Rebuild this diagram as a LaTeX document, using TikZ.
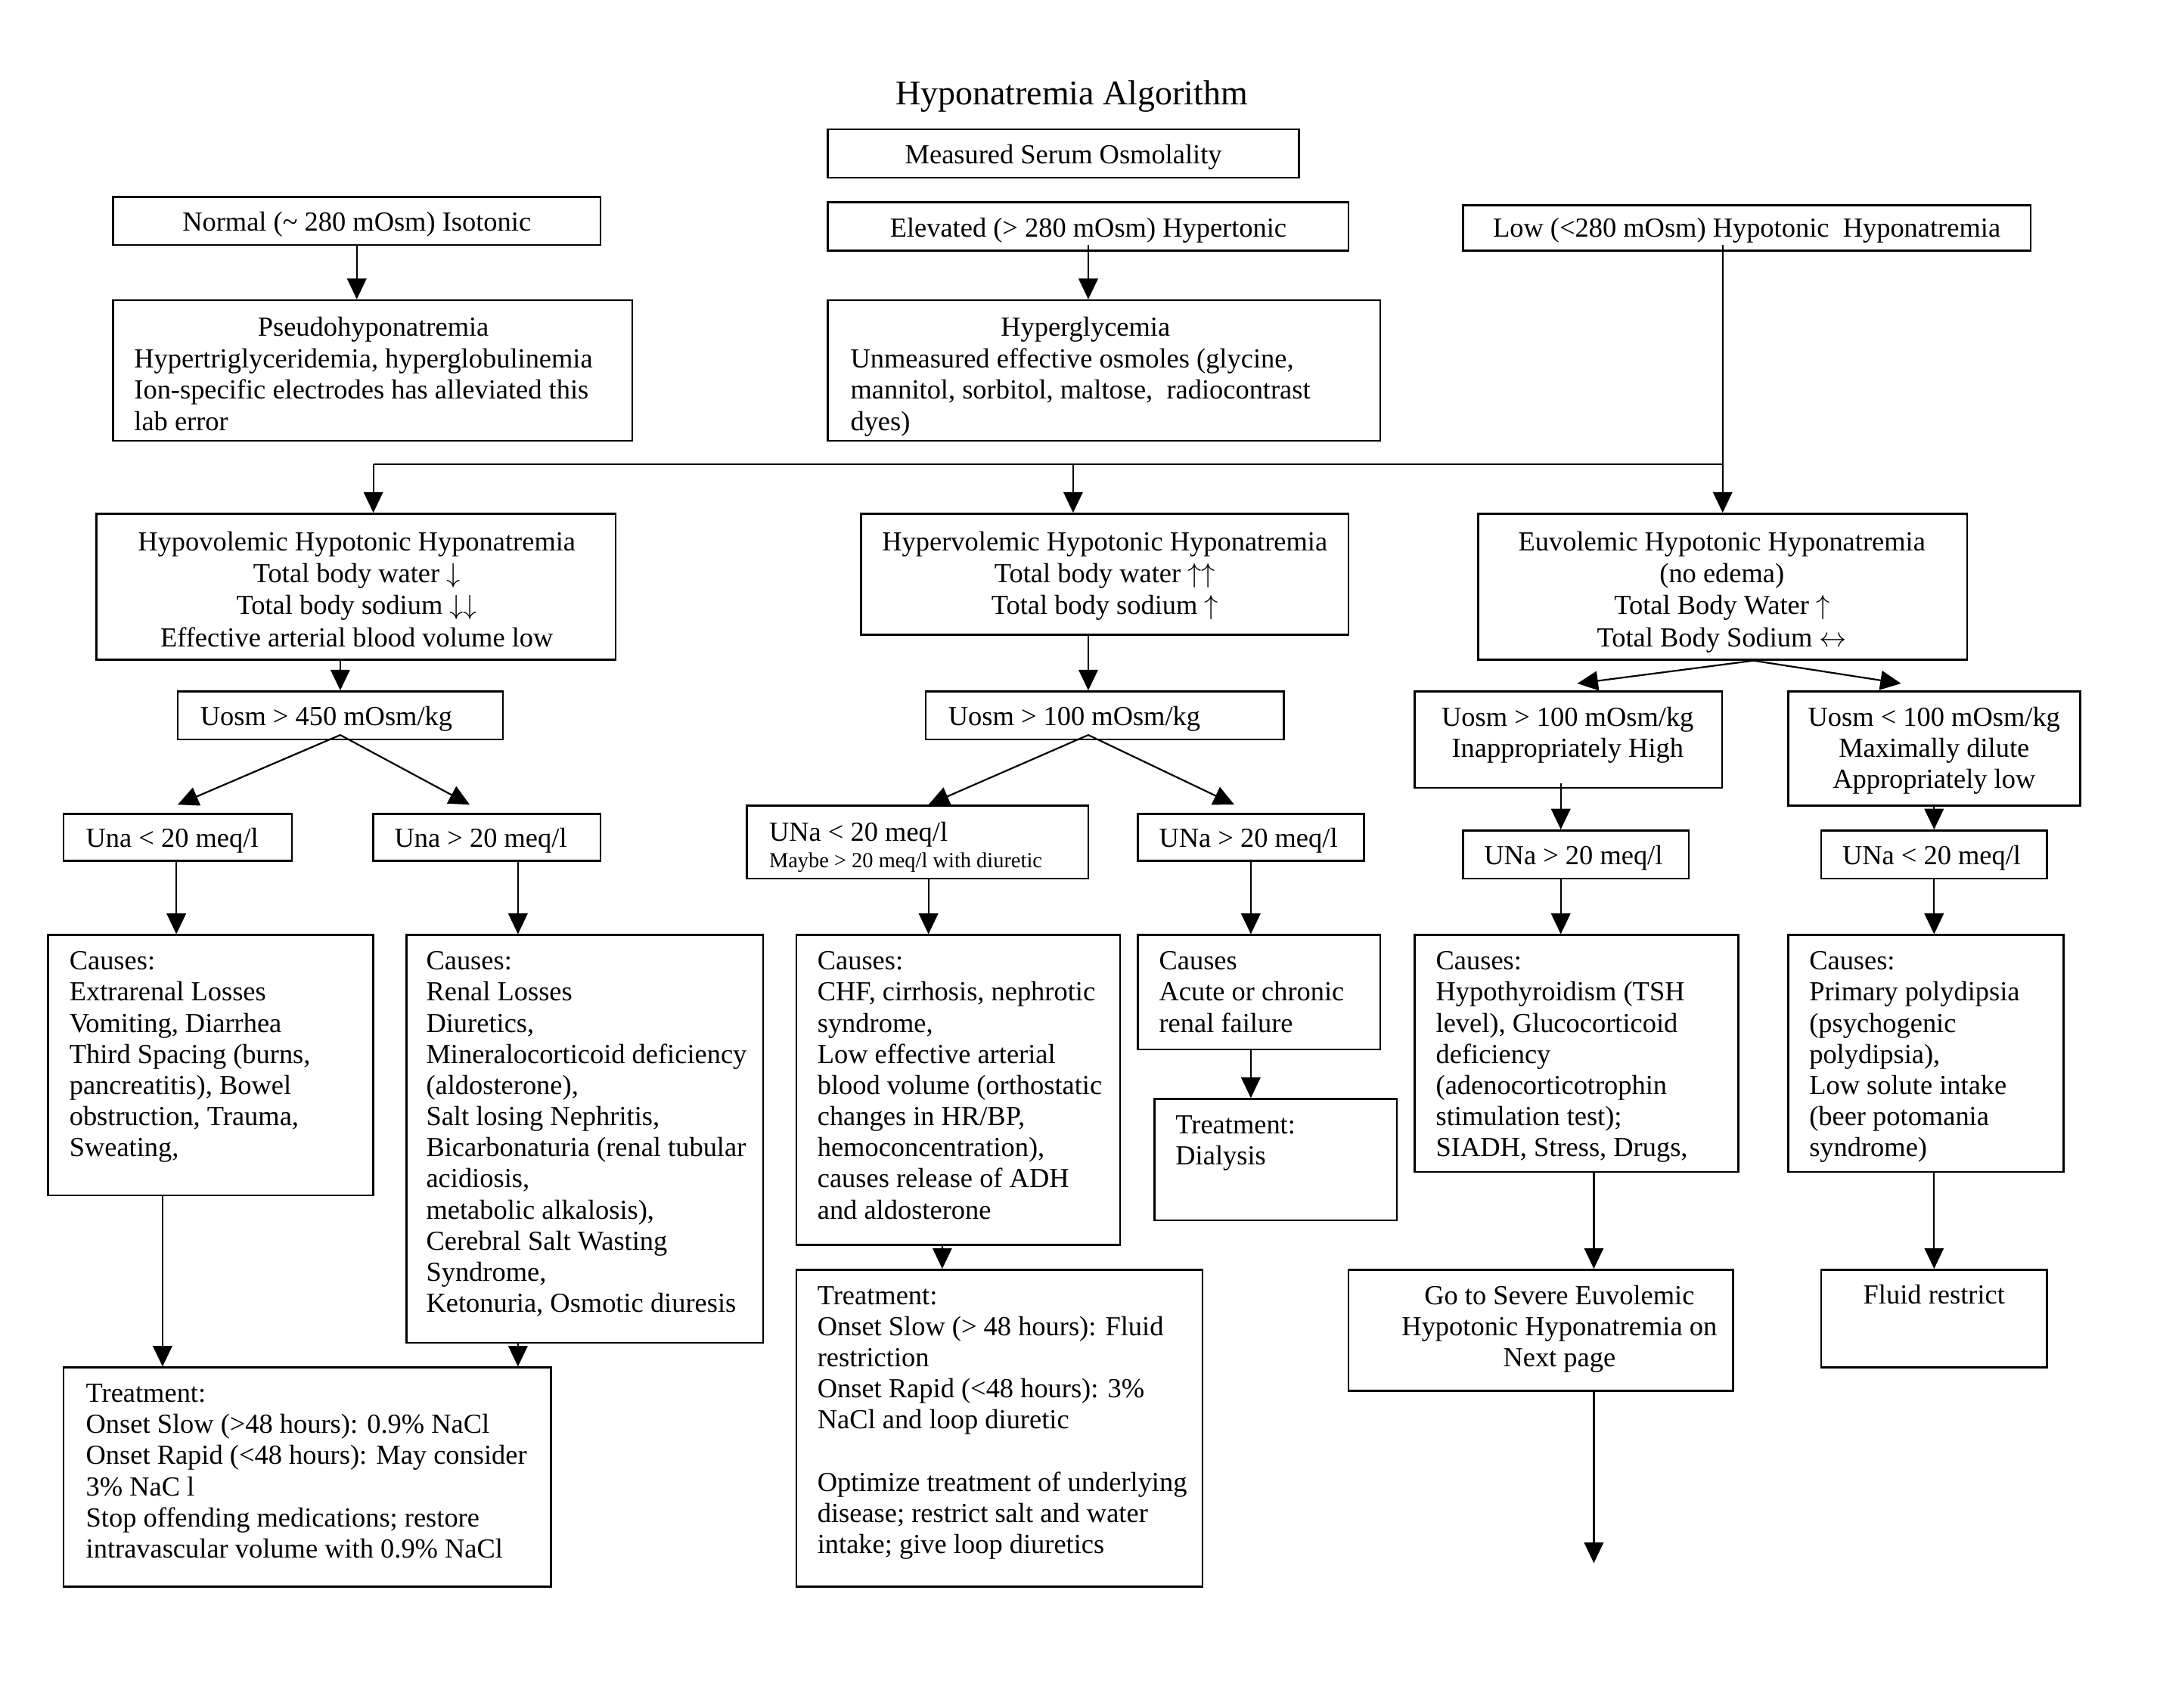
\documentclass[tikz,border=0pt]{standalone}
\usepackage{fontspec}
\setmainfont{Liberation Serif}
\usetikzlibrary{fit,arrows.meta}
\newcommand\vconn[3]{\coordinate (vx) at (#3,0); \draw[arr] (#1.south -| vx) -- (#2.north -| vx);}
\begin{document}
\begin{tikzpicture}[x=0.5pt,y=-0.5pt,
  bx/.style={draw, line width=0.7pt, inner sep=0pt},
  tx/.style={inner sep=0pt, font=\fontsize{10}{11.3}\selectfont},
  txu/.style={inner sep=0pt, font=\fontsize{10}{11.65}\selectfont},
  arr/.style={-{Triangle[length=7.5pt,width=7pt]}, line width=0.6pt},
  ln/.style={line width=0.6pt}]
\fill[white] (0,0) rectangle (1568,1239.7);
\useasboundingbox (0,0) rectangle (1568,1239.7);

\node[inner sep=0pt, font=\fontsize{12.6}{15}\selectfont, anchor=base] (title) at (778,76) {Hyponatremia Algorithm};

% top row
\node[bx, fit={(601,94) (943,129)}] (mso) {};
\node[tx, anchor=base] (mso-t) at (772,119) {Measured Serum Osmolality};
\node[bx, fit={(82,143) (436,178)}] (normal) {};
\node[tx, anchor=base] (normal-t) at (259,168) {Normal (\textasciitilde{} 280 mOsm) Isotonic};
\node[bx, fit={(601,147) (979,182)}] (elev) {};
\node[tx, anchor=base] (elev-t) at (790,172) {Elevated (> 280 mOsm) Hypertonic};
\node[bx, fit={(1062,149) (1474,182)}] (low) {};
\node[tx, anchor=base] (low-t) at (1268,172) {Low (<280 mOsm) Hypotonic\ \ Hyponatremia};

\node[bx, fit={(82,218) (459,320)}] (pseudo) {};
\node[tx, anchor=base] (pseudo-h) at (271,244) {Pseudohyponatremia};
\node[tx, anchor=north west, align=left] (pseudo-t) at (97,267-16) {\strut Hypertriglyceridemia, hyperglobulinemia\\ Ion-specific electrodes has alleviated this\\ lab error};

\node[bx, fit={(601,218) (1002,320)}] (hyperg) {};
\node[tx, anchor=base] (hyperg-h) at (788,244) {Hyperglycemia};
\node[tx, anchor=north west, align=left] (hyperg-t) at (617,267-16) {\strut Unmeasured effective osmoles (glycine,\\ mannitol, sorbitol, maltose,\ \ radiocontrast\\ dyes)};

% volume status
\node[bx, fit={(70,373) (447,479)}] (hypo) {};
\node[txu, anchor=north, align=center] (hypo-t) at (259,399-16) {\strut Hypovolemic Hypotonic Hyponatremia\\ Total body water $\downarrow$\\ Total body sodium $\downarrow\downarrow$\\ Effective arterial blood volume low};
\node[bx, fit={(625,373) (979,461)}] (hyper) {};
\node[txu, anchor=north, align=center] (hyper-t) at (802,399-16) {\strut Hypervolemic Hypotonic Hyponatremia\\ Total body water $\uparrow\uparrow$\\ Total body sodium $\uparrow$};
\node[bx, fit={(1073,373) (1428,479)}] (euv) {};
\node[txu, anchor=north, align=center] (euv-t) at (1250,399-16) {\strut Euvolemic Hypotonic Hyponatremia\\ (no edema)\\ Total Body Water $\uparrow$\\ Total Body Sodium $\leftrightarrow$};

% urine osm
\node[bx, fit={(129,502) (365,537)}] (u450) {};
\node[tx, anchor=base west] (u450-t) at (145,527) {Uosm > 450 mOsm/kg};
\node[bx, fit={(672,502) (932,537)}] (uH) {};
\node[tx, anchor=base west] (uH-t) at (688,527) {Uosm > 100 mOsm/kg};
\node[bx, fit={(1027,502) (1250,572)}] (uEL) {};
\node[tx, anchor=north, align=center] (uEL-t) at (1138,527-16) {\strut Uosm > 100 mOsm/kg\\ Inappropriately High};
\node[bx, fit={(1298,502) (1510,585)}] (uER) {};
\node[tx, anchor=north, align=center] (uER-t) at (1404,527-16) {\strut Uosm < 100 mOsm/kg\\ Maximally dilute\\ Appropriately low};

% urine Na
\node[bx, fit={(46,591) (212,625)}] (unaL) {};
\node[tx, anchor=base west] (unaL-t) at (62,615) {Una < 20 meq/l};
\node[bx, fit={(271,591) (436,625)}] (unaR) {};
\node[tx, anchor=base west] (unaR-t) at (286,615) {Una > 20 meq/l};
\node[bx, fit={(542,585) (790,638)}] (unaHL) {};
\node[tx, anchor=base west] (unaHL-t) at (558,611) {UNa < 20 meq/l};
\node[tx, anchor=base west, font=\fontsize{7.8}{9}\selectfont] (unaHL-s) at (558,630) {Maybe > 20 meq/l with diuretic};
\node[bx, fit={(826,591) (990,625)}] (unaHR) {};
\node[tx, anchor=base west] (unaHR-t) at (841,615) {UNa > 20 meq/l};
\node[bx, fit={(1062,603) (1226,638)}] (unaEL) {};
\node[tx, anchor=base west] (unaEL-t) at (1077,628) {UNa > 20 meq/l};
\node[bx, fit={(1322,603) (1486,638)}] (unaER) {};
\node[tx, anchor=base west] (unaER-t) at (1337,628) {UNa < 20 meq/l};

% causes
\node[bx, fit={(35,679) (271,868)}] (c1) {};
\node[tx, anchor=north west, align=left] (c1-t) at (50,704-16) {\strut Causes:\\ Extrarenal Losses\\ Vomiting, Diarrhea\\ Third Spacing (burns,\\ pancreatitis), Bowel\\ obstruction, Trauma,\\ Sweating,};
\node[bx, fit={(295,679) (554,975)}] (c2) {};
\node[tx, anchor=north west, align=left] (c2-t) at (309,704-16) {\strut Causes:\\ Renal Losses\\ Diuretics,\\ Mineralocorticoid deficiency\\ (aldosterone),\\ Salt losing Nephritis,\\ Bicarbonaturia (renal tubular\\ acidiosis,\\ metabolic alkalosis),\\ Cerebral Salt Wasting\\ Syndrome,\\ Ketonuria, Osmotic diuresis};
\node[bx, fit={(578,679) (813,904)}] (c3) {};
\node[tx, anchor=north west, align=left] (c3-t) at (593,704-16) {\strut Causes:\\ CHF, cirrhosis, nephrotic\\ syndrome,\\ Low effective arterial\\ blood volume (orthostatic\\ changes in HR/BP,\\ hemoconcentration),\\ causes release of ADH\\ and aldosterone};
\node[bx, fit={(826,679) (1002,762)}] (c4) {};
\node[tx, anchor=north west, align=left] (c4-t) at (841,704-16) {\strut Causes\\ Acute or chronic\\ renal failure};
\node[bx, fit={(1027,679) (1262,851)}] (c5) {};
\node[tx, anchor=north west, align=left] (c5-t) at (1042,704-16) {\strut Causes:\\ Hypothyroidism (TSH\\ level), Glucocorticoid\\ deficiency\\ (adenocorticotrophin\\ stimulation test);\\ SIADH, Stress, Drugs,};
\node[bx, fit={(1298,679) (1498,851)}] (c6) {};
\node[tx, anchor=north west, align=left] (c6-t) at (1313,704-16) {\strut Causes:\\ Primary polydipsia\\ (psychogenic\\ polydipsia),\\ Low solute intake\\ (beer potomania\\ syndrome)};

% treatments
\node[bx, fit={(838,798) (1014,886)}] (dial) {};
\node[tx, anchor=north west, align=left] (dial-t) at (853,823-16) {\strut Treatment:\\ Dialysis};
\node[bx, fit={(578,922) (873,1152)}] (t3) {};
\node[tx, anchor=north west, align=left] (t3-t) at (593,947-16) {\strut Treatment:\\ Onset Slow (> 48 hours): Fluid\\ restriction\\ Onset Rapid (<48 hours): 3\%\\ NaCl and loop diuretic\\[11.3pt] Optimize treatment of underlying\\ disease; restrict salt and water\\ intake; give loop diuretics};
\node[bx, fit={(979,922) (1258,1010)}] (goto) {};
\node[tx, anchor=north, align=center] (goto-t) at (1132,947-16) {\strut Go to Severe Euvolemic\\ Hypotonic Hyponatremia on\\ Next page};
\node[bx, fit={(1322,922) (1486,993)}] (fluid) {};
\node[tx, anchor=base] (fluid-t) at (1404,947) {Fluid restrict};
\node[bx, fit={(46,993) (400,1152)}] (t1) {};
\node[tx, anchor=north west, align=left] (t1-t) at (62,1018-16) {\strut Treatment:\\ Onset Slow (>48 hours): 0.9\% NaCl\\ Onset Rapid (<48 hours): May consider\\ 3\% NaC l\\ Stop offending medications; restore\\ intravascular volume with 0.9\% NaCl};

% connectors
\draw[arr] (normal.south) -- (normal.south |- pseudo.north);
\draw[arr] ([yshift=2.5pt]elev.south) -- (hyperg.north -| elev.south);
\draw[arr] ([xshift=-8.75pt,yshift=2.5pt]low.south) -- (euv.north);
\coordinate (jl) at (271,337);
\coordinate (jm) at (779,337);
\coordinate (jr) at (1250.5,337);
\draw[ln] (jl) -- (jr);
\draw[arr] (jl) -- (jl |- hypo.north);
\draw[arr] (jm) -- (jm |- hyper.north);

\draw[arr] (hypo.south -| u450.north) -- (u450.north);
\vconn{hyper}{uH}{790}
\draw[arr] ([xshift=11.25pt]euv.south) -- ([xshift=3.25pt,yshift=2.5pt]uEL.north);
\draw[arr] ([xshift=11.25pt]euv.south) -- ([xshift=-12pt,yshift=2.5pt]uER.north);

\draw[arr] ([yshift=2pt]u450.south) -- ([yshift=3pt]unaL.north);
\draw[arr] ([yshift=2pt]u450.south) -- ([xshift=-6.25pt,yshift=3pt]unaR.north);
\draw[arr] ([xshift=-6pt,yshift=2pt]uH.south) -- ([xshift=4pt]unaHL.north);
\draw[arr] ([xshift=-6pt,yshift=2pt]uH.south) -- ([xshift=-6pt,yshift=3pt]unaHR.north);
\draw[arr] ([xshift=-2.75pt,yshift=2pt]uEL.south) -- ([xshift=-5.5pt]unaEL.north);
\draw[arr] (uER.south) -- (unaER.north);

\vconn{unaL}{c1}{128}
\vconn{unaR}{c2}{376}
\vconn{unaHL}{c3}{674}
\vconn{unaHR}{c4}{908}
\vconn{unaEL}{c5}{1133}
\vconn{unaER}{c6}{1404}
\vconn{c4}{dial}{908}
\vconn{c3}{t3}{684}
\vconn{c5}{goto}{1157}
\vconn{c6}{fluid}{1404}
\vconn{c1}{t1}{118}
\vconn{c2}{t1}{376}
\coordinate (endp) at (1157,1135);
\draw[arr] (goto.south -| endp) -- (endp);
\end{tikzpicture}
\end{document}
